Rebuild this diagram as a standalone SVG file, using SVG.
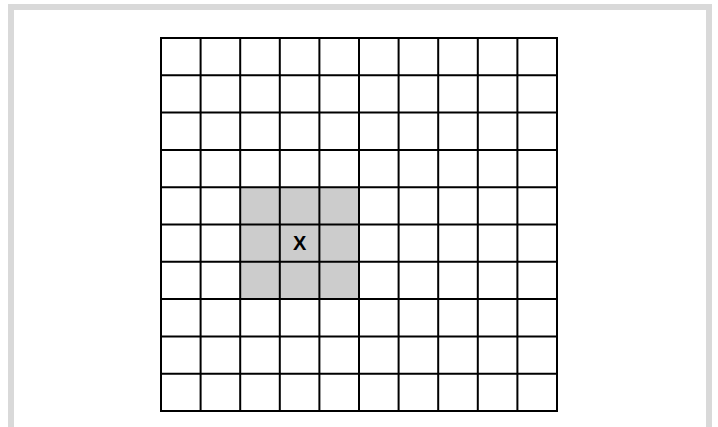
<svg xmlns="http://www.w3.org/2000/svg" width="718" height="427" viewBox="0 0 718 427">
<style>
.frame{fill:none;stroke:#d9d9d9;stroke-width:6}
.hl{fill:#cccccc}
.lbl{font-family:"Liberation Sans",Arial,sans-serif;font-size:20px;font-weight:bold;fill:#000;text-anchor:middle}
</style>
<rect class="frame" x="11" y="7" width="698" height="440"/>
<g id="grid">
<rect x="161" y="38" width="396" height="373" fill="#fff"/>
<rect class="hl" x="240.2" y="187.2" width="118.8" height="111.9"/>
<path d="M161 38V411M200.6 38V411M240.2 38V411M279.8 38V411M319.4 38V411M359 38V411M398.6 38V411M438.2 38V411M477.8 38V411M517.4 38V411M557 38V411M160 38H558M160 75.3H558M160 112.6H558M160 149.9H558M160 187.2H558M160 224.5H558M160 261.8H558M160 299.1H558M160 336.4H558M160 373.7H558M160 411H558" stroke="#000" stroke-width="2" fill="none"/>
</g>
<g id="x-cell">
<text class="lbl" x="299.6" y="249.5">X</text>
</g>
</svg>
